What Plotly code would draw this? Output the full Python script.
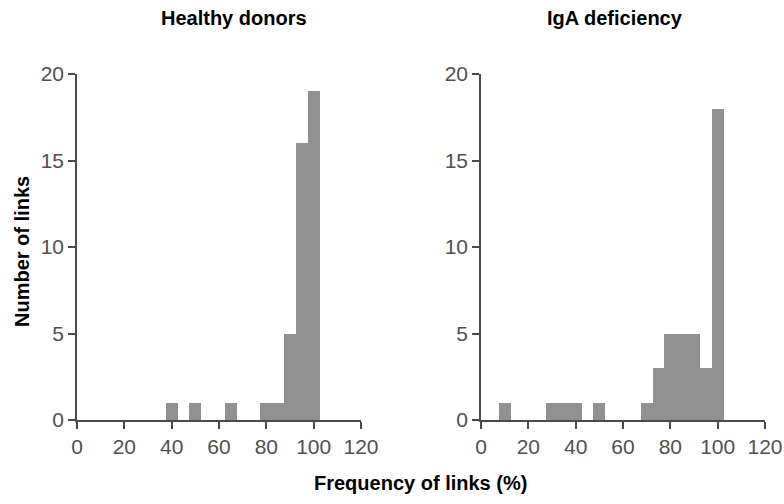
import plotly.graph_objects as go

# Histogram bins (bin centres, width 5) and counts
healthy_bins = [40, 50, 65, 80, 85, 90, 95, 100]
healthy_counts = [1, 1, 1, 1, 1, 5, 16, 19]

iga_bins = [10, 30, 35, 40, 50, 70, 75, 80, 85, 90, 95, 100]
iga_counts = [1, 1, 1, 1, 1, 1, 3, 5, 5, 5, 3, 18]

x_ticks = [0, 20, 40, 60, 80, 100, 120]
y_ticks = [0, 5, 10, 15, 20]

W, H = 784, 504
BAR = "#919191"
AX = "#4a4a4a"
FONT = "Liberation Sans, Arial, sans-serif"

fig = go.Figure()
fig.add_trace(go.Bar(x=healthy_bins, y=healthy_counts, width=5, marker=dict(color=BAR, line=dict(width=0)),
                     xaxis="x", yaxis="y", showlegend=False))
fig.add_trace(go.Bar(x=iga_bins, y=iga_counts, width=5, marker=dict(color=BAR, line=dict(width=0)),
                     xaxis="x2", yaxis="y2", showlegend=False))

def xax(dom, anchor):
    return dict(domain=dom, anchor=anchor, range=[0, 120], tickvals=x_ticks, showgrid=False, zeroline=False,
                showline=True, linecolor=AX, linewidth=1.5, ticks="outside", ticklen=7, tickwidth=1.5,
                tickcolor=AX, tickfont=dict(size=21, color="#505050", family=FONT), fixedrange=True,
                automargin=False)

def yax(dom, anchor):
    return dict(domain=dom, anchor=anchor, range=[0, 20], tickvals=y_ticks, showgrid=False, zeroline=False,
                showline=True, linecolor=AX, linewidth=1.5, ticks="outside", ticklen=7, tickwidth=1.5,
                tickcolor=AX, tickfont=dict(size=21, color="#505050", family=FONT), fixedrange=True,
                automargin=False)

ydom = [(H - 420) / H, (H - 74) / H]
fig.update_layout(
    width=W, height=H, autosize=False,
    margin=dict(l=0, r=0, t=0, b=0, pad=0),
    paper_bgcolor="white", plot_bgcolor="white",
    bargap=0,
    xaxis=xax([77 / W, 361 / W], "y"),
    yaxis=yax(ydom, "x"),
    xaxis2=xax([481 / W, 765 / W], "y2"),
    yaxis2=yax(ydom, "x2"),
    font=dict(family=FONT),
)

def ann(text, x, y, angle=0):
    fig.add_annotation(text=f"<b>{text}</b>", x=x / W, y=1 - y / H, xref="paper", yref="paper",
                       xanchor="center", yanchor="middle", showarrow=False, textangle=angle,
                       font=dict(size=20, color="black", family=FONT))

ann("Healthy donors", 234, 18)
ann("IgA deficiency", 615, 18)
ann("Frequency of links (%)", 420, 483)
ann("Number of links", 22, 252, -90)

fig.write_html("out.html", config={"displayModeBar": False},
               post_script="document.body.style.margin='0';document.body.style.overflow='hidden';")
